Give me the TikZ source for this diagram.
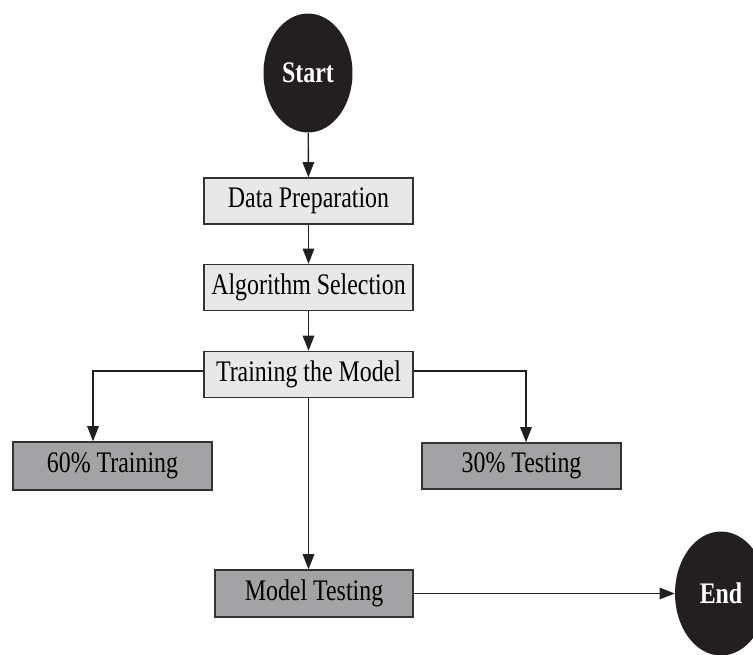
\documentclass[tikz,border=0pt]{standalone}
\usepackage{fontspec}
\setmainfont{Liberation Serif}[FakeStretch=0.8]
\usetikzlibrary{arrows.meta,shapes.geometric,positioning}
\definecolor{FCLight}{HTML}{E8E8E8}
\definecolor{FCMiddle}{HTML}{A3A3A5}
\definecolor{FCDark}{HTML}{231F20}
\definecolor{FCEdge}{HTML}{333333}

\begin{document}
\begin{tikzpicture}[
    x=0.02cm, y=-0.02cm,
    >={Triangle[length=0.3cm,width=0.23cm]},
    every node/.style={font=\fontsize{17}{20}\selectfont},
    terminal/.style={ellipse, fill=FCDark, text=white, inner sep=0pt, font=\fontsize{17}{20}\selectfont\bfseries},
    stepbox/.style={rectangle, draw=FCEdge, line width=0.9pt, inner sep=0pt, minimum height=0.92cm},
    lightbox/.style={stepbox, fill=FCLight, minimum width=4.18cm},
    darkbox/.style={stepbox, fill=FCMiddle, minimum width=3.98cm},
    flow/.style={->, line width=0.8pt, FCDark}
 ]
\def\xMid{308.5}
\def\yRow{466}

\useasboundingbox (0,0) rectangle (753,654);
\clip (0,0) rectangle (753,654);

\node[terminal, minimum width=1.78cm, minimum height=2.38cm] (start) at (308,73) {Start};
\node[lightbox] (prep) at (\xMid,201) {Data Preparation};
\node[lightbox] (algo) at (\xMid,287.5) {Algorithm Selection};
\node[lightbox] (train) at (\xMid,374.5) {Training the Model};
\node[darkbox, minimum height=0.96cm] (sixty) at (112.5,\yRow) {60\% Training};
\node[darkbox] (thirty) at (521.5,\yRow) {30\% Testing};
\node[darkbox, minimum width=3.96cm, minimum height=0.94cm] (mtest) at (314,593.5) {Model Testing};
\node[terminal, minimum width=1.84cm, minimum height=2.48cm] (end) at (721,593.5) {End};

\draw[flow] (start) -- (prep);
\draw[flow] (prep) -- (algo);
\draw[flow] (algo) -- (train);
\draw[flow] ([yshift=0.07cm]train.west) -| ([xshift=-0.39cm]sixty.north);
\draw[flow] ([yshift=0.07cm]train.east) -| ([xshift=0.09cm]thirty.north);
\draw[flow] (train.south) -- (train.south |- mtest.north);
\draw[flow] (mtest.east) -- (end.west);

\end{tikzpicture}
\end{document}
